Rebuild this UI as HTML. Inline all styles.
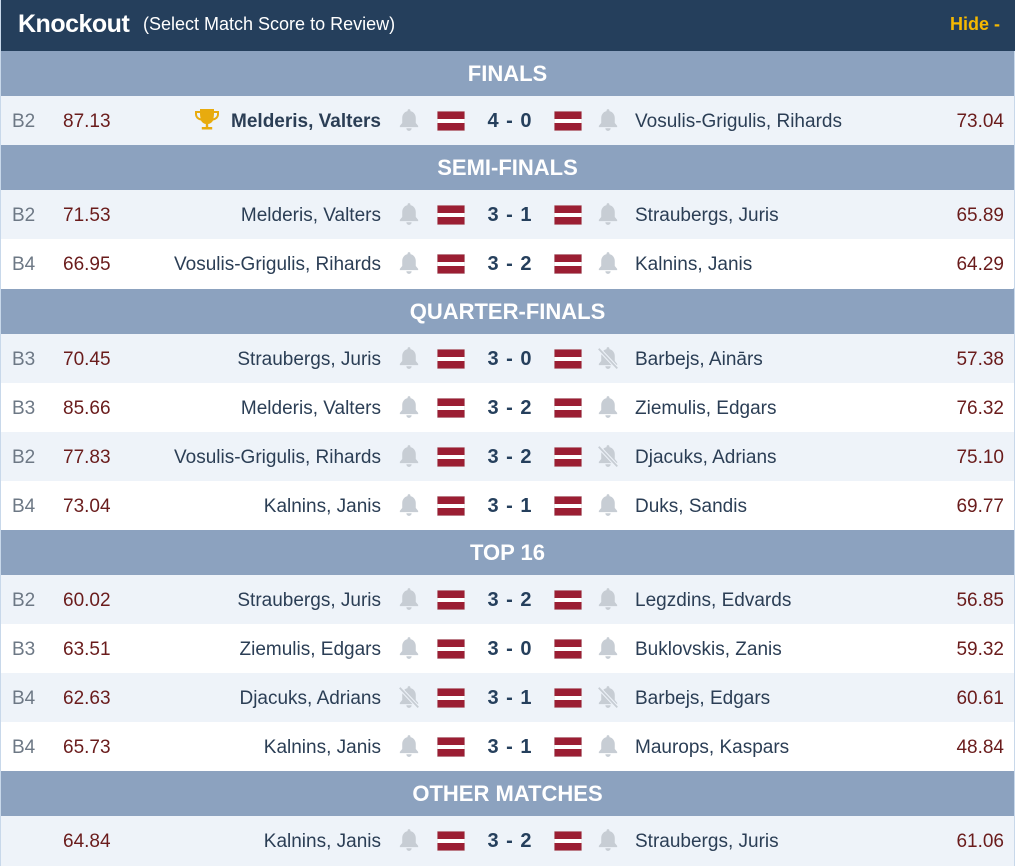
<!DOCTYPE html>
<html><head><meta charset="utf-8">
<style>
*{margin:0;padding:0;box-sizing:border-box}
body{width:1015px;height:866px;overflow:hidden;background:#fff;font-family:"Liberation Sans",sans-serif;}
#wrap{position:relative;width:1015px;height:866px;border-left:1px solid #c8d8ea;border-right:2px solid #c8d8ea;}
.top{position:absolute;left:0;top:0;width:1015px;height:51px;background:#253f5c;color:#fff}
.top .t{position:absolute;left:17px;top:10px;font-size:25px;font-weight:bold;letter-spacing:-0.5px}
.top .s{position:absolute;left:142px;top:14px;font-size:18px}
.top .h{position:absolute;right:16px;top:14px;font-size:18px;font-weight:bold;color:#f5b800}
.sec{position:absolute;left:0;width:1013px;height:45px;background:#8ca2bf;color:#fff;font-size:22px;font-weight:bold;text-align:center;line-height:46px;}
.row{position:absolute;left:0;width:1013px;height:49px;font-size:19px;color:#2b3e55}
.a{background:#eef3f9}.b{background:#fff}
.row span{position:absolute;top:15px;white-space:nowrap}
.dv{left:11px;color:#6d7885}
.sl{left:62px;color:#6a1c1c}
.nl{right:633px;text-align:right}
.nr{left:634px}
.sr{right:10px;color:#6a1c1c}
.sc{left:468px;width:82px;text-align:center;font-weight:bold;font-size:20px;color:#253f5c;letter-spacing:1px;top:14px!important}
.row svg{position:absolute}
.fl{left:436px;top:15px}.fr{left:553px;top:15px}
.bl{left:397px;top:12px}.br{left:596px;top:12px}
</style></head><body><div id="wrap">
<svg width="0" height="0" style="position:absolute">
<defs>
<symbol id="bell" viewBox="0 0 20 22"><path d="M10 1c-.8 0-1.3.6-1.3 1.3v.6C5.6 3.6 3.8 6.2 3.8 9.2v4.5L1.6 16.4v1.1h16.8v-1.1l-2.2-2.7V9.2c0-3-1.8-5.6-4.9-6.3v-.6C11.3 1.6 10.8 1 10 1zM7.6 18.6c0 1.3 1 2.4 2.4 2.4s2.4-1.1 2.4-2.4z" fill="#c7cdd4"/></symbol>
<symbol id="bellx" viewBox="0 0 20 22"><path d="M10 1c-.8 0-1.3.6-1.3 1.3v.6C5.6 3.6 3.8 6.2 3.8 9.2v4.5L1.6 16.4v1.1h16.8v-1.1l-2.2-2.7V9.2c0-3-1.8-5.6-4.9-6.3v-.6C11.3 1.6 10.8 1 10 1zM7.6 18.6c0 1.3 1 2.4 2.4 2.4s2.4-1.1 2.4-2.4z" fill="#c7cdd4"/><path d="M1 2L19 21" stroke="#eef3f9" stroke-width="3.5"/><path d="M1.5 2.5L18.5 20.5" stroke="#c7cdd4" stroke-width="1.6"/></symbol>
<symbol id="flag" viewBox="0 0 28 20"><rect width="28" height="20" fill="#dcdcdc"/><rect x=".5" y=".5" width="27" height="7.5" fill="#9b1e33"/><rect x=".5" y="8" width="27" height="4" fill="#fff"/><rect x=".5" y="12" width="27" height="7.5" fill="#9b1e33"/></symbol>
</defs></svg>
<div class="top"><span class="t">Knockout</span><span class="s">(Select Match Score to Review)</span><span class="h">Hide -</span></div>

<div class="sec" style="top:51px">FINALS</div>
<div class="row a" style="top:96px"><span class="dv">B2</span><span class="sl">87.13</span>
<svg style="left:193px;top:12px" width="26" height="24" viewBox="0 0 26 24"><path d="M6 1h14v2h5v3c0 4-3 6-6 6.5-1 2-2.7 3.2-4.8 3.5v3h4v2.5H7.8V19h4v-3c-2.1-.3-3.8-1.5-4.8-3.5C4 12 1 10 1 6V3h5zM3 5v1c0 2.5 1.600 3.8 3.6 4.3C6.2 8.8 6 7 6 5zm17 0c0 2-.2 3.8-.6 5.3 2-.5 3.6-1.8 3.6-4.3V5z" fill="#e8ab0e"/></svg>
<span class="nl" style="font-weight:bold">Melderis, Valters</span>
<svg class="bl" width="22" height="24"><use href="#bell"/></svg><svg class="fl" width="28" height="20"><use href="#flag"/></svg><span class="sc">4 - 0</span><svg class="fr" width="28" height="20"><use href="#flag"/></svg><svg class="br" width="22" height="24"><use href="#bell"/></svg>
<span class="nr">Vosulis-Grigulis, Rihards</span><span class="sr">73.04</span></div>

<div class="sec" style="top:145px">SEMI-FINALS</div>
<div class="row a" style="top:190px"><span class="dv">B2</span><span class="sl">71.53</span><span class="nl">Melderis, Valters</span>
<svg class="bl" width="22" height="24"><use href="#bell"/></svg><svg class="fl" width="28" height="20"><use href="#flag"/></svg><span class="sc">3 - 1</span><svg class="fr" width="28" height="20"><use href="#flag"/></svg><svg class="br" width="22" height="24"><use href="#bell"/></svg>
<span class="nr">Straubergs, Juris</span><span class="sr">65.89</span></div>
<div class="row b" style="top:239px"><span class="dv">B4</span><span class="sl">66.95</span><span class="nl">Vosulis-Grigulis, Rihards</span>
<svg class="bl" width="22" height="24"><use href="#bell"/></svg><svg class="fl" width="28" height="20"><use href="#flag"/></svg><span class="sc">3 - 2</span><svg class="fr" width="28" height="20"><use href="#flag"/></svg><svg class="br" width="22" height="24"><use href="#bell"/></svg>
<span class="nr">Kalnins, Janis</span><span class="sr">64.29</span></div>

<div class="sec" style="top:289px">QUARTER-FINALS</div>
<div class="row a" style="top:334px"><span class="dv">B3</span><span class="sl">70.45</span><span class="nl">Straubergs, Juris</span>
<svg class="bl" width="22" height="24"><use href="#bell"/></svg><svg class="fl" width="28" height="20"><use href="#flag"/></svg><span class="sc">3 - 0</span><svg class="fr" width="28" height="20"><use href="#flag"/></svg><svg class="br" width="22" height="24"><use href="#bellx"/></svg>
<span class="nr">Barbejs, Ainārs</span><span class="sr">57.38</span></div>
<div class="row b" style="top:383px"><span class="dv">B3</span><span class="sl">85.66</span><span class="nl">Melderis, Valters</span>
<svg class="bl" width="22" height="24"><use href="#bell"/></svg><svg class="fl" width="28" height="20"><use href="#flag"/></svg><span class="sc">3 - 2</span><svg class="fr" width="28" height="20"><use href="#flag"/></svg><svg class="br" width="22" height="24"><use href="#bell"/></svg>
<span class="nr">Ziemulis, Edgars</span><span class="sr">76.32</span></div>
<div class="row a" style="top:432px"><span class="dv">B2</span><span class="sl">77.83</span><span class="nl">Vosulis-Grigulis, Rihards</span>
<svg class="bl" width="22" height="24"><use href="#bell"/></svg><svg class="fl" width="28" height="20"><use href="#flag"/></svg><span class="sc">3 - 2</span><svg class="fr" width="28" height="20"><use href="#flag"/></svg><svg class="br" width="22" height="24"><use href="#bellx"/></svg>
<span class="nr">Djacuks, Adrians</span><span class="sr">75.10</span></div>
<div class="row b" style="top:481px"><span class="dv">B4</span><span class="sl">73.04</span><span class="nl">Kalnins, Janis</span>
<svg class="bl" width="22" height="24"><use href="#bell"/></svg><svg class="fl" width="28" height="20"><use href="#flag"/></svg><span class="sc">3 - 1</span><svg class="fr" width="28" height="20"><use href="#flag"/></svg><svg class="br" width="22" height="24"><use href="#bell"/></svg>
<span class="nr">Duks, Sandis</span><span class="sr">69.77</span></div>

<div class="sec" style="top:530px">TOP 16</div>
<div class="row a" style="top:575px"><span class="dv">B2</span><span class="sl">60.02</span><span class="nl">Straubergs, Juris</span>
<svg class="bl" width="22" height="24"><use href="#bell"/></svg><svg class="fl" width="28" height="20"><use href="#flag"/></svg><span class="sc">3 - 2</span><svg class="fr" width="28" height="20"><use href="#flag"/></svg><svg class="br" width="22" height="24"><use href="#bell"/></svg>
<span class="nr">Legzdins, Edvards</span><span class="sr">56.85</span></div>
<div class="row b" style="top:624px"><span class="dv">B3</span><span class="sl">63.51</span><span class="nl">Ziemulis, Edgars</span>
<svg class="bl" width="22" height="24"><use href="#bell"/></svg><svg class="fl" width="28" height="20"><use href="#flag"/></svg><span class="sc">3 - 0</span><svg class="fr" width="28" height="20"><use href="#flag"/></svg><svg class="br" width="22" height="24"><use href="#bell"/></svg>
<span class="nr">Buklovskis, Zanis</span><span class="sr">59.32</span></div>
<div class="row a" style="top:673px"><span class="dv">B4</span><span class="sl">62.63</span><span class="nl">Djacuks, Adrians</span>
<svg class="bl" width="22" height="24"><use href="#bellx"/></svg><svg class="fl" width="28" height="20"><use href="#flag"/></svg><span class="sc">3 - 1</span><svg class="fr" width="28" height="20"><use href="#flag"/></svg><svg class="br" width="22" height="24"><use href="#bellx"/></svg>
<span class="nr">Barbejs, Edgars</span><span class="sr">60.61</span></div>
<div class="row b" style="top:722px"><span class="dv">B4</span><span class="sl">65.73</span><span class="nl">Kalnins, Janis</span>
<svg class="bl" width="22" height="24"><use href="#bell"/></svg><svg class="fl" width="28" height="20"><use href="#flag"/></svg><span class="sc">3 - 1</span><svg class="fr" width="28" height="20"><use href="#flag"/></svg><svg class="br" width="22" height="24"><use href="#bell"/></svg>
<span class="nr">Maurops, Kaspars</span><span class="sr">48.84</span></div>

<div class="sec" style="top:771px">OTHER MATCHES</div>
<div class="row a" style="top:816px;height:50px"><span class="sl">64.84</span><span class="nl">Kalnins, Janis</span>
<svg class="bl" width="22" height="24"><use href="#bell"/></svg><svg class="fl" width="28" height="20"><use href="#flag"/></svg><span class="sc">3 - 2</span><svg class="fr" width="28" height="20"><use href="#flag"/></svg><svg class="br" width="22" height="24"><use href="#bell"/></svg>
<span class="nr">Straubergs, Juris</span><span class="sr">61.06</span></div>
</div></body></html>
